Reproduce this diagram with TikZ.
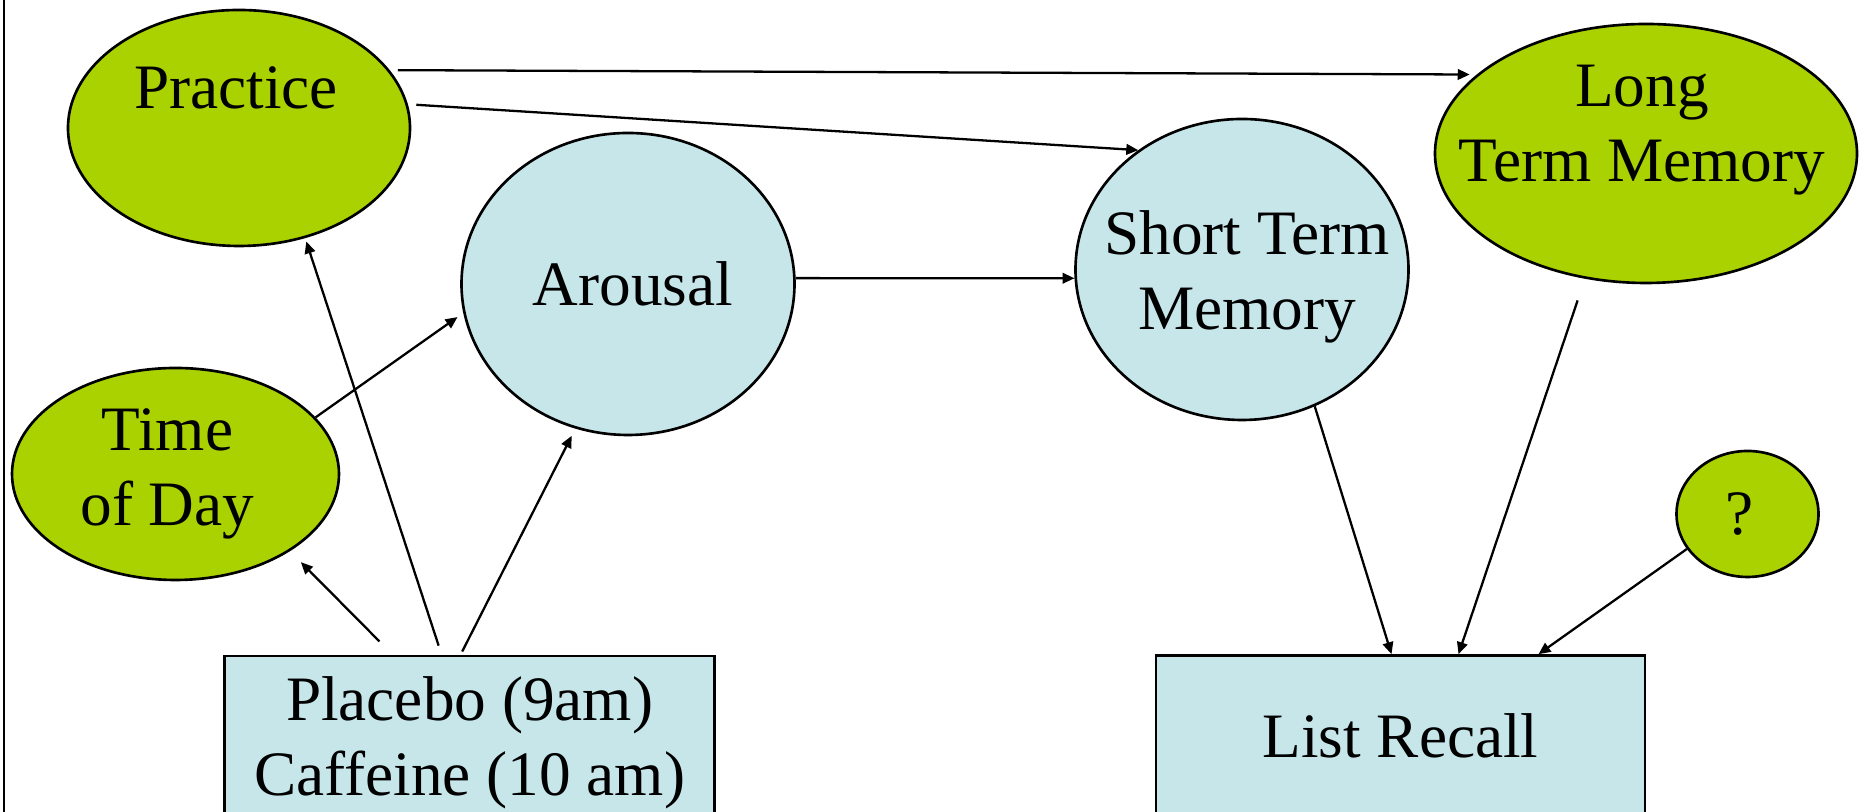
\documentclass[tikz,border=0pt]{standalone}
\usepackage{fontspec}
\setmainfont{Liberation Serif}
\usepackage{tikz}
\usetikzlibrary{shapes.geometric, arrows.meta, positioning, calc}
\usepackage{xcolor}
\definecolor{ovalgreen}{RGB}{170,210,0}
\definecolor{paleblue}{RGB}{198,230,234}

\begin{document}
\begin{tikzpicture}[
        oval/.style={ellipse, draw=black, line width=0.75pt, inner sep=0pt},
        factor/.style={oval, fill=ovalgreen},
        process/.style={oval, fill=paleblue},
        txt/.style={font=\fontsize{18}{21.3}\selectfont, align=center},
        block/.style={rectangle, draw=black, line width=0.75pt, fill=paleblue, txt},
        arrow/.style={-{Triangle[length=3.4pt, width=3pt]}, line width=0.65pt, draw=black}
    ]
        \useasboundingbox (0,0) rectangle (18.64,8.12);
        \clip (0,0) rectangle (18.64,8.12);
        \draw [line width=0.65pt] (0.043,0) -- (0.043,8.12);

        % Ovals
        \node [factor, minimum width=3.42cm, minimum height=2.36cm, label={[txt, xshift=-0.03cm, yshift=0.4cm]center:Practice}] (prac) at (2.39, 6.84) {};
        \node [factor, minimum width=3.27cm, minimum height=2.12cm, label={[txt, xshift=-0.08cm]center:Time\\of Day}] (tod) at (1.755, 3.38) {};
        \node [process, minimum width=3.33cm, minimum height=3.02cm, label={[txt, xshift=0.05cm]center:Arousal}] (arou) at (6.28, 5.28) {};
        \node [process, minimum width=3.33cm, minimum height=3.01cm, label={[txt, xshift=0.05cm, yshift=-0.07cm]center:Short Term\\Memory}] (stm) at (12.42, 5.425) {};
        \node [factor, minimum width=4.22cm, minimum height=2.59cm, label={[txt, xshift=-0.04cm, yshift=0.23cm]center:Long\\Term Memory}] (ltm) at (16.46, 6.585) {};
        \node [factor, minimum width=1.42cm, minimum height=1.26cm, label={[txt, xshift=-0.08cm]center:?}] (q) at (17.475, 2.98) {};

        % Boxes
        \node [block, minimum width=4.90cm, minimum height=1.74cm] (plac) at (4.696, 0.69) {Placebo (9am)\\Caffeine (10 am)};
        \node [block, minimum width=4.89cm, minimum height=1.61cm] (lrec) at (14.005, 0.76) {List Recall};

        % Arrows
        \draw [arrow, shorten <=2.3pt, shorten >=2pt] (prac.21) -- (ltm.155);
        \draw [arrow, shorten <=2.4pt] (prac.8) -- (stm.131);
        \draw [arrow] (arou.2) -- (stm.183);
        \draw [arrow, shorten >=2pt] (tod.22) -- (arou.190);
        \draw [arrow, shorten <=2.7pt, shorten >=1pt] ([xshift=-2.8mm]plac.north) -- (prac.-59);
        \draw [arrow, shorten <=1pt, shorten >=2.3pt] ([xshift=-0.9mm]plac.north) -- (arou.250);
        \draw [arrow, shorten <=5.3pt, shorten >=4.4pt] ([xshift=-7.7mm]plac.north) -- (tod.-34);
        \draw [arrow] (stm.-62) -- ([xshift=-0.9mm]lrec.north);
        \draw [arrow, shorten <=6.5pt] (ltm.244) -- ([xshift=5.8mm]lrec.north);
        \draw [arrow] (q.210) -- ([xshift=13.8mm]lrec.north);
\end{tikzpicture}
\end{document}
